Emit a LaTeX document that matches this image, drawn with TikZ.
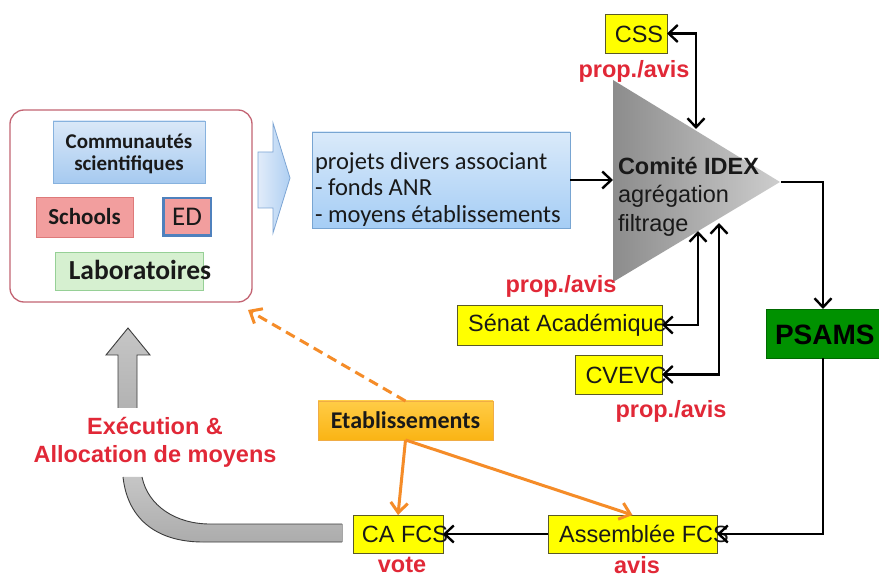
\documentclass[tikz,border=0pt]{standalone}
\usepackage{fontspec}
\setmainfont{Liberation Sans}
\newfontfamily\carl{Carlito}
\usetikzlibrary{arrows.meta}
\definecolor{redlab}{RGB}{225,40,55}
\definecolor{conborder}{RGB}{195,100,115}
\definecolor{commT}{RGB}{218,232,248}
\definecolor{commBot}{RGB}{166,202,240}
\definecolor{commB}{RGB}{135,178,222}
\definecolor{schF}{RGB}{242,158,158}
\definecolor{schB}{RGB}{222,122,122}
\definecolor{edB}{RGB}{79,129,189}
\definecolor{labF}{RGB}{214,240,208}
\definecolor{labB}{RGB}{150,208,150}
\definecolor{projT}{RGB}{218,234,250}
\definecolor{projBot}{RGB}{165,205,245}
\definecolor{projB}{RGB}{120,165,210}
\definecolor{arrL}{RGB}{225,236,250}
\definecolor{arrR}{RGB}{175,207,242}
\definecolor{arrB}{RGB}{125,165,212}
\definecolor{ylw}{RGB}{255,255,0}
\definecolor{ylwB}{RGB}{90,90,40}
\definecolor{psamsF}{RGB}{0,145,0}
\definecolor{psamsB}{RGB}{0,105,0}
\definecolor{etabT}{RGB}{255,204,70}
\definecolor{etabBot}{RGB}{250,180,20}
\definecolor{etabB}{RGB}{240,172,70}
\definecolor{orng}{RGB}{245,140,40}
\definecolor{triL}{RGB}{140,140,140}
\definecolor{triR}{RGB}{205,205,205}
\definecolor{grayB}{RGB}{60,60,60}
\definecolor{txtdark}{RGB}{25,25,25}
\begin{document}
\begin{tikzpicture}[x=1pt,y=-1pt,
  every node/.style={inner sep=0pt, outer sep=0pt},
  ybox/.style={draw=ylwB, fill=ylw, line width=0.9pt},
  atxt/.style={text=txtdark, font=\fontsize{23.5}{28}\selectfont},
  lab/.style={text=redlab, font=\bfseries\fontsize{23.5}{28}\selectfont},
  barb/.tip={Straight Barb[length=9pt,width=17pt]},
  blk/.style={draw=black, line width=2.4pt, -barb},
  blkboth/.style={draw=black, line width=2.4pt, barb-barb},
  orarrow/.style={draw=orng, line width=3pt, -{Straight Barb[length=10pt,width=17pt]}}
]
\useasboundingbox (0,0) rectangle (879,577);
\fill[white] (0,0) rectangle (879,577);

% container
\node[draw=conborder, line width=1.3pt, rounded corners=14pt, fill=white,
      minimum width=242pt, minimum height=192pt] (cont) at (131,206) {};
\node[draw=commB, line width=0.8pt, top color=commT, bottom color=commBot,
      minimum width=152pt, minimum height=62pt] (comm) at (129,152) {};
\node[align=center, text=txtdark, font=\carl\bfseries\fontsize{21}{22}\selectfont] (commT) at (129,154) {Communautés\\scientifiques};
\node[draw=schB, line width=0.8pt, fill=schF, minimum width=97pt, minimum height=40pt,
      text=txtdark, font=\carl\bfseries\fontsize{23}{25}\selectfont] (sch) at (84.5,217) {Schools};
\node[draw=edB, line width=2.5pt, fill=schF, minimum width=47.5pt, minimum height=37.5pt,
      text=txtdark, font=\carl\fontsize{27}{29}\selectfont] (ed) at (187,217) {ED};
\node[draw=labB, line width=0.8pt, fill=labF, minimum width=148pt, minimum height=38pt] (labo) at (129,271) {};
\node[text=txtdark, font=\carl\bfseries\fontsize{27.5}{29}\selectfont] (laboT) at (140,270) {Laboratoires};

% blue block arrow
\shadedraw[draw=arrB, line width=0.8pt, left color=arrL, right color=arrR]
  (258,152) -- (273,152) -- (273,123) -- (290,178) -- (273,233) -- (273,208) -- (258,208) -- cycle;

% projets
\node[draw=projB, line width=0.8pt, top color=projT, bottom color=projBot,
      minimum width=258pt, minimum height=96pt] (proj) at (441,180) {};
\node[anchor=west, align=left, text=txtdark, font=\carl\fontsize{24.5}{26.5}\selectfont] (projT) at (315,189)
  {projets divers associant\\- fonds ANR\\- moyens établissements};

% triangle Comite IDEX
\coordinate (tA) at (613,80);
\coordinate (tB) at (780,182);
\coordinate (tC) at (613,282);
\shade[left color=triL, right color=triR] (tA) -- (tB) -- (tC) -- cycle;
\coordinate (idexW) at (613,180);
\coordinate (idexE) at (781,182);
\coordinate (idexTop) at (696,129);
\coordinate (idexB1) at (698,231);
\coordinate (idexB2) at (719,223);
\node[anchor=base west, text=txtdark, font=\bfseries\fontsize{23.5}{28}\selectfont] (idexT1) at (618,175) {Comité IDEX};
\node[anchor=base west, text=txtdark, font=\fontsize{23.5}{28}\selectfont] (idexT2) at (618,203) {agrégation};
\node[anchor=base west, text=txtdark, font=\fontsize{23.5}{28}\selectfont] (idexT3) at (618,232) {filtrage};

\draw[blk] (proj.east) -- (idexW);

% CSS
\node[ybox, minimum width=62pt, minimum height=39pt] (css) at (636,33.5) {};
\node[atxt] (cssT) at (639,34) {CSS};
\draw[blkboth] (idexTop) |- (css.east);
\node[lab] (pa1) at (634,71) {prop./avis};

% Senat
\node[ybox, minimum width=205pt, minimum height=40pt] (senat) at (559.5,325) {};
\node[atxt] (senatT) at (567.5,325) {Sénat Académique};
\draw[blkboth] (idexB1) |- (senat.east);
\node[lab] (pa2) at (561,286) {prop./avis};

% CVEVC
\node[ybox, minimum width=87pt, minimum height=39pt] (cvevc) at (618.5,374.5) {};
\node[atxt] (cvevcT) at (626,375) {CVEVC};
\draw[blkboth] (idexB2) |- (cvevc.east);
\node[lab] (pa3) at (671,411) {prop./avis};

% PSAMS
\node[draw=psamsB, line width=0.9pt, fill=psamsF, minimum width=114pt, minimum height=49pt, anchor=west] (psams) at (766,333.5) {};
\node[anchor=west, text=black, font=\bfseries\fontsize{28}{30}\selectfont] (psamsT) at (775,334.5) {PSAMS};
\draw[blk] (idexE) -| (psams.north);

% Assemblee FCS
\node[ybox, minimum width=169pt, minimum height=38pt] (asm) at (632.5,534) {};
\node[atxt] (asmT) at (644,534) {Assemblée FCS};
\draw[blk] (psams.south) |- (asm.east);
\node[lab] (avis) at (637,565) {avis};

% CA FCS
\node[ybox, minimum width=90pt, minimum height=38pt] (cafcs) at (398,534) {};
\node[atxt] (cafcsT) at (405,534) {CA FCS};
\draw[blk] (asm.west) -- (cafcs.east);
\node[lab] (vote) at (402,565) {vote};

% Etablissements
\node[draw=etabB, line width=0.8pt, top color=etabT, bottom color=etabBot,
      minimum width=175pt, minimum height=39pt, text=txtdark,
      font=\carl\bfseries\fontsize{24}{26}\selectfont] (etab) at (405.5,420.5) {Etablissements};
\coordinate (dashEnd) at (248,310);
\draw[orarrow] (etab.south) -- (cafcs.north);
\draw[orarrow] (etab.south) -- (asm.north);
\draw[orarrow, dash pattern=on 10pt off 6pt] (etab.north) -- (dashEnd);

% grey return arrow
\shade[top color=gray!45, bottom color=gray!60]
  (118,408) -- (118,355) -- (106,355) -- (128,328) -- (150,355) -- (137,355) -- (137,408) -- cycle;
\draw[draw=grayB, line width=0.9pt]
  (118,408) -- (118,355) -- (106,355) -- (128,328) -- (150,355) -- (137,355) -- (137,408);
\shade[top color=gray!45, bottom color=gray!65]
  (123,477) .. controls (128,522) and (160,542) .. (203,542) -- (342,542) -- (342,524) -- (210,524)
  .. controls (176,524) and (148,506) .. (142,477) -- cycle;
\draw[draw=grayB, line width=0.9pt]
  (123,477) .. controls (128,522) and (160,542) .. (203,542) -- (342,542);
\draw[draw=grayB, line width=0.9pt]
  (342,524) -- (210,524) .. controls (176,524) and (148,506) .. (142,477);
\draw[draw=gray!70, line width=0.6pt] (342,524) -- (342,542);
\node[lab, align=center] (exec) at (155,442) {Exécution \&\\Allocation de moyens};
\end{tikzpicture}
\end{document}
